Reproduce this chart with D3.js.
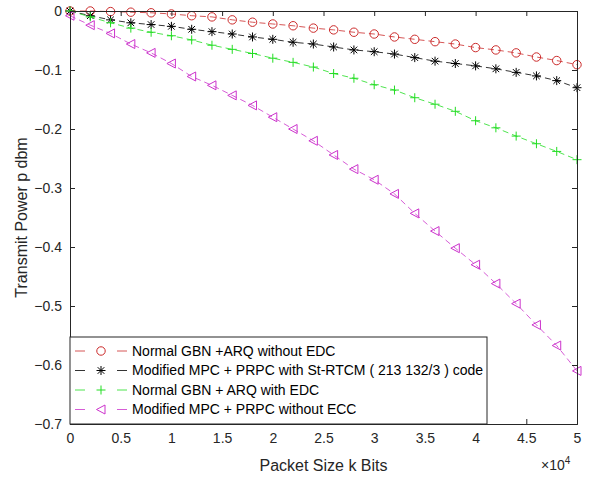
<!DOCTYPE html>
<html>
<head>
<meta charset="utf-8">
<script src="https://cdn.jsdelivr.net/npm/d3@7"></script>
<style>
  body { margin: 0; background: #fff; }
  text { font-family: "Liberation Sans", Arial, sans-serif; }
</style>
</head>
<body>
<div id="chart"></div>
<script>
// packet size (bits), one point every 2000
const packetSize = [0, 2000, 4000, 6000, 8000, 10000, 12000, 14000, 16000, 18000, 20000, 22000, 24000,
                    26000, 28000, 30000, 32000, 34000, 36000, 38000, 40000, 42000, 44000, 46000, 48000, 50000];

const normalNoEdc = [0, 0, -0.001, -0.002, -0.003, -0.005, -0.008, -0.010, -0.015, -0.019, -0.022, -0.025, -0.029,
                     -0.032, -0.036, -0.039, -0.044, -0.048, -0.052, -0.056, -0.062, -0.066, -0.071, -0.078, -0.084, -0.091];
const modifiedRtcm = [0, -0.008, -0.015, -0.020, -0.023, -0.026, -0.031, -0.035, -0.039, -0.044, -0.048, -0.053, -0.056,
                      -0.061, -0.066, -0.069, -0.073, -0.079, -0.085, -0.089, -0.093, -0.098, -0.104, -0.110, -0.118, -0.130];
const normalEdc = [0, -0.010, -0.020, -0.029, -0.036, -0.042, -0.049, -0.058, -0.065, -0.072, -0.080, -0.087, -0.095,
                   -0.106, -0.114, -0.125, -0.134, -0.147, -0.158, -0.170, -0.186, -0.198, -0.212, -0.225, -0.238, -0.252];
const modifiedNoEcc = [-0.008, -0.024, -0.038, -0.056, -0.071, -0.089, -0.111, -0.126, -0.143, -0.160, -0.180, -0.200, -0.220,
                       -0.244, -0.268, -0.286, -0.310, -0.343, -0.373, -0.402, -0.430, -0.462, -0.496, -0.532, -0.567, -0.610];

const seriesNames = ["Normal GBN +ARQ without EDC",
                     "Modified MPC + PRPC with St-RTCM ( 213 132/3 ) code",
                     "Normal GBN + ARQ with EDC",
                     "Modified MPC + PRPC without ECC"];

const xTicks = [0, 5000, 10000, 15000, 20000, 25000, 30000, 35000, 40000, 45000, 50000];
const yTicks = [0, -0.1, -0.2, -0.3, -0.4, -0.5, -0.6, -0.7];

const series = [
    {name: seriesNames[0], values: normalNoEdc, color: "#cc2b2b", marker: "circle"},
    {name: seriesNames[1], values: modifiedRtcm, color: "#000000", marker: "star"},
    {name: seriesNames[2], values: normalEdc, color: "#22dd22", marker: "plus"},
    {name: seriesNames[3], values: modifiedNoEcc, color: "#cc33cc", marker: "triangle"}
];

const W = 589, H = 478;
const margin = {top: 11, right: 12, bottom: 54, left: 70};
const width = W - margin.left - margin.right;
const height = H - margin.top - margin.bottom;
const axisColor = "#262626";

const svg = d3.select("#chart")
              .append("svg")
              .attr("width", W)
              .attr("height", H);

const g = svg.append("g")
             .attr("transform", "translate(" + margin.left + "," + margin.top + ")");

const x = d3.scaleLinear().domain([0, 50000]).range([0, width]);
const y = d3.scaleLinear().domain([-0.7, 0]).range([height, 0]);

// marker path drawing
function markerPath(type) {
    if (type === "circle") return d3.symbol().type(d3.symbolCircle).size(56)();
    if (type === "plus") return "M-4.5,0L4.5,0M0,-4.5L0,4.5";
    if (type === "star") return "M-4.5,0L4.5,0M0,-4.5L0,4.5M-3.3,-3.3L3.3,3.3M-3.3,3.3L3.3,-3.3";
    // left pointing triangle
    return "M-4.5,0L4,-4.5L4,4.5Z";
}

// lines + markers
const line = d3.line()
               .x(function (d, i) { return x(packetSize[i]); })
               .y(function (d) { return y(d); });

series.forEach(function (s) {
    g.append("path")
     .datum(s.values)
     .attr("d", line)
     .attr("fill", "none")
     .attr("stroke", s.color)
     .attr("stroke-width", 0.8)
     .attr("stroke-dasharray", "6,4");

    g.selectAll(null)
     .data(s.values)
     .enter()
     .append("path")
     .attr("transform", function (d, i) {
         return "translate(" + x(packetSize[i]) + "," + y(d) + ")";
     })
     .attr("d", markerPath(s.marker))
     .attr("fill", "none")
     .attr("stroke", s.color)
     .attr("stroke-width", 1);
});

// axes (ticks pointing inward, box on)
const xAxis = g.append("g")
               .attr("transform", "translate(0," + height + ")")
               .call(d3.axisBottom(x).tickValues(xTicks).tickSize(-5).tickPadding(9)
                       .tickFormat(function (d) { return d3.format("")(d / 10000); }));
const yAxis = g.append("g")
               .call(d3.axisLeft(y).tickValues(yTicks).tickSize(-5).tickPadding(8)
                       .tickFormat(function (d) { return d === 0 ? "0" : d3.format(".1f")(d); }));
const xTop = g.append("g")
              .call(d3.axisTop(x).tickValues(xTicks).tickSize(-5).tickFormat(""));
const yRight = g.append("g")
                .attr("transform", "translate(" + width + ",0)")
                .call(d3.axisRight(y).tickValues(yTicks).tickSize(-5).tickFormat(""));

[xAxis, yAxis, xTop, yRight].forEach(function (a) {
    a.selectAll("path").attr("stroke", axisColor);
    a.selectAll("line").attr("stroke", axisColor);
    a.selectAll("text").attr("fill", axisColor).style("font-size", "14px");
});

// axis labels
svg.append("text")
   .attr("x", margin.left + width / 2)
   .attr("y", 471)
   .attr("text-anchor", "middle")
   .attr("fill", axisColor)
   .style("font-size", "16px")
   .text("Packet Size k Bits");

svg.append("text")
   .attr("transform", "translate(27," + (margin.top + height / 2) + ")rotate(-90)")
   .attr("text-anchor", "middle")
   .attr("fill", axisColor)
   .style("font-size", "16px")
   .text("Transmit Power p dbm");

const expo = svg.append("text")
                .attr("x", 541)
                .attr("y", 470)
                .attr("fill", axisColor)
                .style("font-size", "14px");
expo.append("tspan").text("\u00d710");
expo.append("tspan").attr("dy", -6).style("font-size", "10px").text("4");

// legend
const legend = g.append("g");
legend.append("rect")
      .attr("x", 0)
      .attr("y", 326)
      .attr("width", 417)
      .attr("height", height - 326)
      .attr("fill", "#fff")
      .attr("stroke", axisColor)
      .attr("stroke-width", 1);

series.forEach(function (s, i) {
    const ly = 340 + i * 19.5;
    legend.append("line")
          .attr("x1", 5).attr("x2", 57)
          .attr("y1", ly).attr("y2", ly)
          .attr("stroke", s.color)
          .attr("stroke-width", 0.8)
          .attr("stroke-dasharray", "10,32");
    legend.append("path")
          .attr("transform", "translate(31," + ly + ")")
          .attr("d", markerPath(s.marker))
          .attr("fill", "none")
          .attr("stroke", s.color);
    legend.append("text")
          .attr("x", 62)
          .attr("y", ly)
          .attr("dy", "0.35em")
          .attr("fill", "#000")
          .style("font-size", "14px")
          .text(s.name);
});
</script>
</body>
</html>
